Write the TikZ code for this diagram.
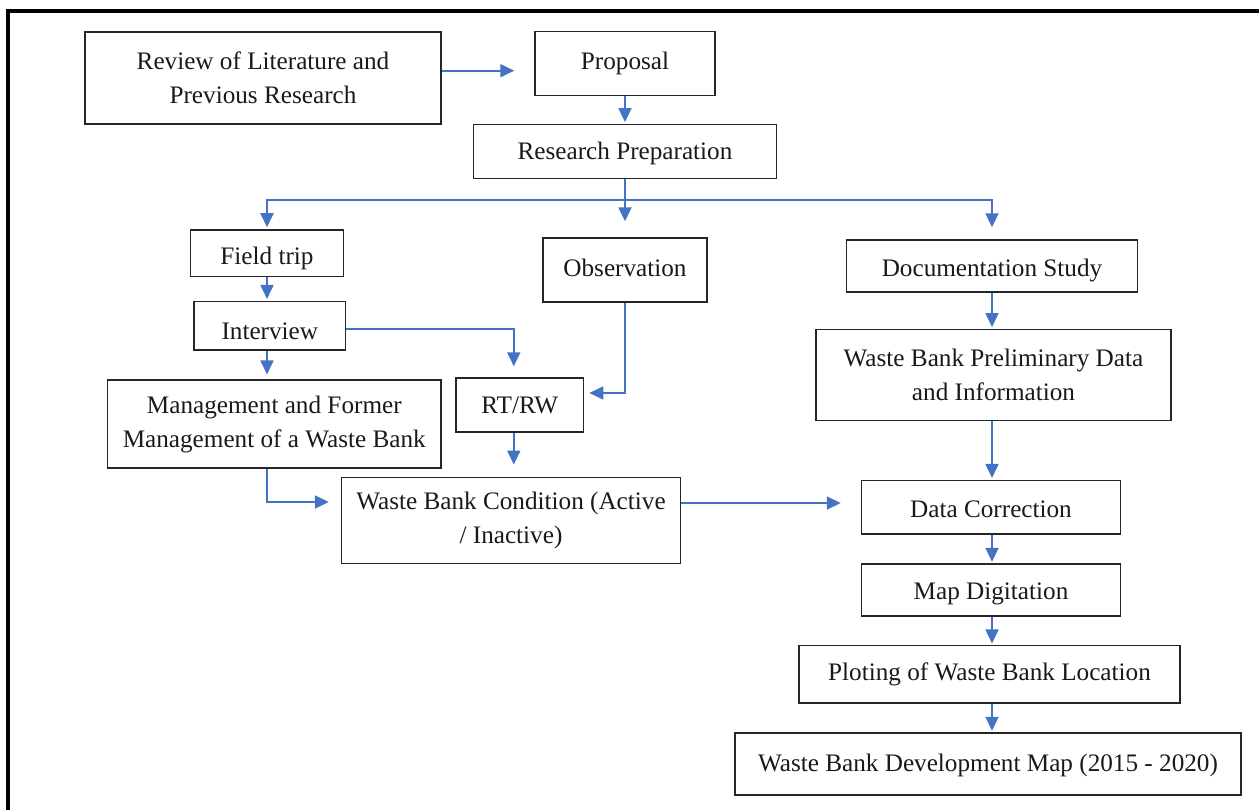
\documentclass[tikz,border=0pt]{standalone}
\usepackage{fontspec}
\setmainfont{Liberation Serif}
\usetikzlibrary{arrows.meta,calc}
\definecolor{arrblue}{HTML}{4472C4}
\newcommand{\dn}[2]{\raisebox{-#1pt}[\height][\depth]{#2}}
\begin{document}
\begin{tikzpicture}[x=1pt,y=-1pt,
  box/.style={draw=black!85, line width=1.4pt, inner sep=0pt, align=center,
    font=\fontsize{25.2}{34}\selectfont, text=black!90},
  arr/.style={draw=arrblue, line width=1.8pt, -{Triangle[length=14pt,width=13pt]}},
  lin/.style={draw=arrblue, line width=1.8pt}]
\useasboundingbox (0,0) rectangle (1259,810);
\draw[line width=3.6pt] (7.7,810) -- (7.7,11.3) -- (1259,11.3);

\node[box, minimum width=356pt, minimum height=92pt] (review) at (263,78) {Review of Literature and\\Previous Research};
\node[box, minimum width=180pt, minimum height=64pt] (proposal) at (625,63.7) {Proposal};
\node[box, minimum width=303pt, minimum height=54pt] (prep) at (625,151.3) {\dn{2}{Research Preparation}};
\node[box, minimum width=153pt, minimum height=46.7pt] (field) at (267,253.3) {\dn{5}{Field trip}};
\node[box, minimum width=151.7pt, minimum height=48.3pt] (interview) at (269.8,325.8) {\dn{5}{Interview}};
\node[box, minimum width=333.4pt, minimum height=87.7pt] (mgmt) at (274.3,424) {Management and Former\\Management of a Waste Bank};
\node[box, minimum width=127.6pt, minimum height=54pt] (rtrw) at (519.8,405) {RT/RW};
\node[box, minimum width=164pt, minimum height=64pt] (obs) at (625,270) {\dn{-2}{Observation}};
\node[box, minimum width=339pt, minimum height=86.4pt] (wbc) at (511,520.5) {Waste Bank Condition (Active\\/ Inactive)};
\node[box, minimum width=291.5pt, minimum height=52pt] (doc) at (992,266) {\dn{4}{Documentation Study}};
\node[box, minimum width=355pt, minimum height=91.4pt] (wbp) at (993.5,375) {Waste Bank Preliminary Data\\and Information};
\node[box, minimum width=259pt, minimum height=53.3pt] (dc) at (991,507.3) {\dn{2}{Data Correction}};
\node[box, minimum width=259pt, minimum height=52pt] (md) at (991,590) {\dn{4}{Map Digitation}};
\node[box, minimum width=381pt, minimum height=57.3pt] (pl) at (989.5,674.3) {Ploting of Waste Bank Location};
\node[box, minimum width=506pt, minimum height=62pt] (final) at (988,764) {\dn{1}{Waste Bank Development Map (2015 - 2020)}};

\coordinate (br) at (625,200);

\draw[arr, shorten >=20pt] ([yshift=7.3pt]review.east) -- ([yshift=7.3pt]review.east -| proposal.west);
\draw[arr, shorten >=1.5pt] (proposal.south) -- (proposal.south |- prep.north);
\draw[arr, shorten >=16pt] (prep.south) -- (obs.north);
\draw[arr, shorten >=2pt] (br) -| (field.north);
\draw[arr, shorten >=12pt] (br) -| (doc.north);
\draw[arr, shorten >=2pt] (field.south) -- (field.south |- interview.north);
\draw[arr, shorten >=5pt] (field.south |- interview.south) -- (field.south |- mgmt.north);
\draw[arr, shorten >=11pt] ([yshift=-3pt]interview.east) -| ([xshift=-6pt]rtrw.north);
\draw[arr, shorten >=5pt] (obs.south) |- ([yshift=12pt]rtrw.east);
\draw[arr, shorten >=12pt] ([xshift=-6pt]rtrw.south) -- ([xshift=-6pt]rtrw.south |- wbc.north);
\draw[arr, shorten >=12pt] ([xshift=-7pt]mgmt.south) |- ([yshift=18.5pt]wbc.west);
\draw[arr, shorten >=20pt] ([yshift=17.5pt]wbc.east) -- ([yshift=17.5pt]wbc.east -| dc.west);
\draw[arr, shorten >=1.5pt] (doc.south) -- (doc.south |- wbp.north);
\draw[arr, shorten >=2pt] (doc.south |- wbp.south) -- (doc.south |- dc.north);
\draw[arr, shorten >=1.5pt] (doc.south |- dc.south) -- (doc.south |- md.north);
\draw[arr, shorten >=1.5pt] (doc.south |- md.south) -- (doc.south |- pl.north);
\draw[arr, shorten >=1.5pt] (doc.south |- pl.south) -- (doc.south |- final.north);
\end{tikzpicture}
\end{document}
